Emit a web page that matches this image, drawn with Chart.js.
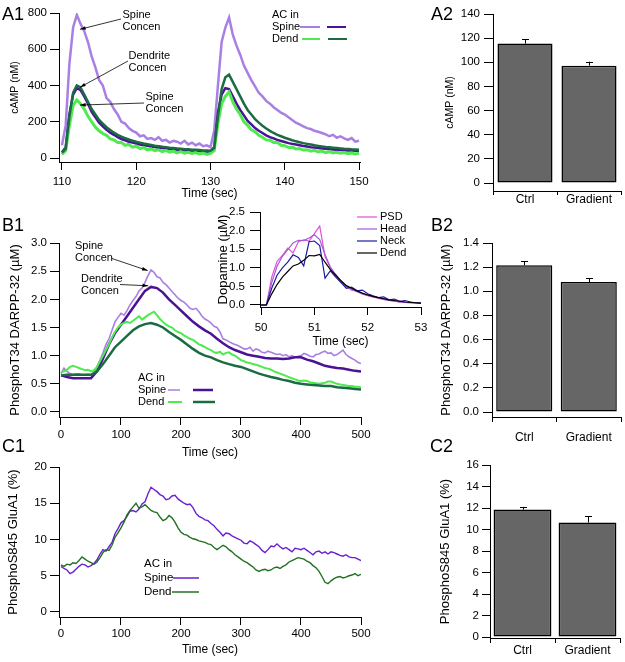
<!DOCTYPE html>
<html>
<head>
<meta charset="utf-8">
<script src="https://cdn.jsdelivr.net/npm/chart.js@4.4.1/dist/chart.umd.min.js"></script>
<style>
  html, body { margin: 0; padding: 0; background: #fff; }
  #wrap { position: relative; width: 625px; height: 662px; overflow: hidden; font-family: "Liberation Sans", Arial, sans-serif; }
  #wrap canvas { position: absolute; left: 0; top: 0; }
  .lbl { position: absolute; font-size: 18px; line-height: 18px; color: #000; }
</style>
</head>
<body>
<div id="wrap">
  <canvas id="cA1" width="625" height="662"></canvas>
  <canvas id="cA2" width="625" height="662"></canvas>
  <canvas id="cB1" width="625" height="662"></canvas>
  <canvas id="cB1i" width="625" height="662"></canvas>
  <canvas id="cB2" width="625" height="662"></canvas>
  <canvas id="cC1" width="625" height="662"></canvas>
  <canvas id="cC2" width="625" height="662"></canvas>
  <div class="lbl" style="left:2px;top:5px">A1</div>
  <div class="lbl" style="left:431px;top:5px">A2</div>
  <div class="lbl" style="left:2px;top:216px">B1</div>
  <div class="lbl" style="left:431px;top:216px">B2</div>
  <div class="lbl" style="left:2px;top:437px">C1</div>
  <div class="lbl" style="left:430px;top:437px">C2</div>
</div>
<script>
// ---- A1: cAMP transients (time in sec) ----
var tA = [110,110.5,111,111.5,112,112.5,113,113.5,114,114.5,115,115.5,116,116.5,117,117.5,118,118.5,119,119.5,
  120,120.5,121,121.5,122,122.5,123,123.5,124,124.5,125,125.5,126,126.5,127,127.5,128,128.5,129,129.5,
  130,130.5,131,131.5,132,132.5,133,133.5,134,134.5,135,135.5,136,136.5,137,137.5,138,138.5,139,139.5,
  140,140.5,141,141.5,142,142.5,143,143.5,144,144.5,145,145.5,146,146.5,147,147.5,148,148.5,149,149.5,150];
var a1SpineSpine = [70,180,520,720,790,740,700,640,560,500, 430,400,330,310,270,240,200,190,165,150,
  140,120,125,105,110,100,115,95,100,85, 95,90,80,95,75,85,70,80,65,70,
  60,150,400,640,720,775,680,620,570,510, 470,430,395,360,340,315,300,280,265,250,
  240,225,210,195,185,175,165,160,150,145, 138,130,120,128,112,120,108,100,110,90, 95];
var a1SpineDend = [30,60,240,350,385,375,340,300,255,225, 195,175,155,140,128,115,105,98,90,85,
  80,75,70,67,63,60,57,55,52,50, 48,46,45,43,42,40,39,38,36,35,
  34,60,250,350,385,380,340,300,265,235, 205,185,165,150,138,125,115,108,100,94,
  88,82,78,74,70,66,63,60,58,55, 53,51,49,47,46,44,43,42,41,40, 39];
var a1DendSpine = [20,40,180,290,320,300,270,230,200,170, 150,135,125,105,100,85,85,70,75,60,
  65,52,58,45,50,40,45,35,42,32, 38,28,35,27,32,25,30,22,28,20,
  25,40,190,300,340,365,310,270,240,200, 180,155,145,125,115,100,98,85,85,70,
  68,58,60,50,52,44,46,38,42,34, 38,30,35,28,32,26,30,24,28,22, 26];
var a1DendDend = [30,50,230,360,400,390,350,310,270,240, 210,190,170,155,140,128,118,110,102,96,
  90,85,80,76,72,68,65,62,60,57, 55,53,51,49,48,46,45,44,42,41,
  40,55,230,380,445,460,420,380,340,300, 265,240,215,195,178,163,150,138,128,120,
  112,105,98,92,87,82,78,74,70,67, 64,61,59,57,55,53,51,50,48,47, 46];
var a1XTicks = [110,120,130,140,150];
var a1YTicks = [0,200,400,600,800];

// ---- A2 / B2 / C2: bar summaries ----
var barCats = ['Ctrl','Gradient'];
var a2Vals = [115.5, 97.2];
var a2Err = [3.5, 3.3];
var a2YTicks = [0,20,40,60,80,100,120,140];
var b2Vals = [1.215, 1.077];
var b2Err = [0.036, 0.033];
var b2YTicks = [0,0.2,0.4,0.6,0.8,1.0,1.2,1.4];
var c2Vals = [11.85, 10.65];
var c2Err = [0.25, 0.6];
var c2YTicks = [0,2,4,6,8,10,12,14,16];

// ---- B1 / C1 time bases (sec) ----
var tB = [0,10,20,30,40,50,60,70,80,90,100,110,120,130,140,150,160,170,180,190,
  200,210,220,230,240,250,260,270,280,290,300,310,320,330,340,350,360,370,380,390,
  400,410,420,430,440,450,460,470,480,490,500];
var t5 = [0,5,10,15,20,25,30,35,40,45,50,55,60,65,70,75,80,85,90,95,
  100,105,110,115,120,125,130,135,140,145,150,155,160,165,170,175,180,185,190,195,
  200,205,210,215,220,225,230,235,240,245,250,255,260,265,270,275,280,285,290,295,
  300,305,310,315,320,325,330,335,340,345,350,355,360,365,370,375,380,385,390,395,
  400,405,410,415,420,425,430,435,440,445,450,455,460,465,470,475,480,485,490,495,500];

// ---- B1: PhosphoT34 DARPP-32 ----
var b1SpineSpine = [0.68,0.78,0.72,0.68,0.66,0.68,0.68,0.66,0.66,0.67, 0.66,0.7,0.8,0.92,1.05,1.2,1.3,1.45,1.6,1.68,
  1.75,1.72,1.8,1.9,1.98,2.05,2.15,2.2,2.3,2.42, 2.52,2.48,2.4,2.38,2.3,2.26,2.2,2.14,2.08,2.02,
  1.98,1.95,1.9,1.84,1.82,1.84,1.78,1.7,1.65,1.62, 1.58,1.52,1.5,1.42,1.3,1.28,1.25,1.22,1.2,1.18,
  1.15,1.12,1.12,1.15,1.08,1.12,1.1,1.06,1.05,1.08, 1.06,1.04,1.02,1.03,1.0,1.02,0.98,1.0,0.97,0.99,
  1.0,1.04,1.02,0.99,0.98,1.02,1.03,1.06,1.08,1.04, 1.05,1.0,1.02,1.06,1.1,1.02,0.98,0.95,0.92,0.88, 0.86];
var b1SpineDend = [0.65,0.62,0.6,0.6,0.6,0.6,0.72,0.95,1.2,1.4, 1.55,1.7,1.85,2.0,2.15,2.22,2.2,2.12,2.0,1.9,
  1.8,1.7,1.6,1.52,1.45,1.39,1.3,1.22,1.15,1.1, 1.06,1.02,1.0,0.98,0.96,0.95,0.95,0.94,0.95,0.97,
  0.97,0.93,0.9,0.86,0.82,0.8,0.78,0.77,0.75,0.73, 0.72];
var b1DendSpine = [0.7,0.72,0.75,0.8,0.82,0.8,0.78,0.76,0.74,0.75, 0.72,0.74,0.8,0.9,1.0,1.1,1.2,1.32,1.42,1.5,
  1.55,1.58,1.6,1.58,1.62,1.66,1.7,1.64,1.68,1.72, 1.75,1.78,1.72,1.65,1.6,1.55,1.52,1.5,1.45,1.42,
  1.4,1.36,1.33,1.3,1.28,1.24,1.2,1.18,1.15,1.12, 1.1,1.06,1.05,1.07,1.02,1.05,1.06,1.02,1.0,0.96,
  0.92,0.9,0.88,0.87,0.85,0.84,0.82,0.8,0.78,0.77, 0.75,0.72,0.7,0.68,0.66,0.64,0.62,0.6,0.58,0.56,
  0.55,0.56,0.55,0.53,0.52,0.51,0.5,0.51,0.52,0.54, 0.54,0.52,0.5,0.49,0.48,0.47,0.46,0.46,0.45,0.45, 0.44];
var b1DendDend = [0.65,0.66,0.66,0.66,0.66,0.66,0.72,0.85,1.0,1.15, 1.25,1.35,1.45,1.52,1.56,1.58,1.55,1.5,1.42,1.35,
  1.28,1.2,1.12,1.05,1.0,0.97,0.92,0.88,0.85,0.82, 0.8,0.76,0.72,0.68,0.65,0.62,0.6,0.57,0.55,0.52,
  0.5,0.49,0.48,0.47,0.46,0.46,0.44,0.43,0.42,0.41, 0.4];
var b1XTicks = [0,100,200,300,400,500];
var b1YTicks = [0,0.5,1.0,1.5,2.0,2.5,3.0];

// ---- B1 inset: dopamine ----
var tD = [50,50.1,50.2,50.3,50.4,50.5,50.6,50.7,50.8,50.9,51,51.1,51.2,51.3,51.4,51.5,51.6,51.7,51.8,51.9,
  52,52.1,52.2,52.3,52.4,52.5,52.6,52.7,52.8,52.9,53];
var daPSD = [0,0,0.75,1.17,1.33,1.53,1.4,1.7,1.75,1.72,1.92,2.12,1.3,1.0,0.8,0.62,0.5,0.4,0.38,0.3,
  0.25,0.22,0.18,0.15,0.12,0.1,0.08,0.07,0.06,0.06,0.05];
var daHead = [0,0,0.6,1.04,1.31,1.49,1.67,1.74,1.73,1.8,1.89,1.76,1.35,1.02,0.82,0.65,0.5,0.42,0.36,0.3,
  0.26,0.22,0.2,0.15,0.13,0.1,0.08,0.07,0.06,0.05,0.05];
var daNeck = [0,0,0.45,0.8,1.0,1.15,1.35,1.28,1.05,1.7,1.72,1.6,0.72,0.92,0.75,0.6,0.45,0.48,0.38,0.4,
  0.3,0.25,0.2,0.22,0.14,0.16,0.1,0.12,0.08,0.06,0.05];
var daDend = [0,0,0.3,0.55,0.75,0.9,1.05,1.1,1.2,1.33,1.32,1.36,1.15,0.95,0.8,0.65,0.52,0.45,0.38,0.32,
  0.27,0.23,0.2,0.17,0.14,0.12,0.1,0.08,0.07,0.06,0.05];
var daXTicks = [50,51,52,53];
var daYTicks = [0,0.5,1.0,1.5,2.0,2.5];

// ---- C1: PhosphoS845 GluA1 (on t5) ----
var c1Spine = [6.3,6.0,5.8,5.3,5.5,5.9,6.3,6.6,6.5,6.2, 6.4,6.7,7.2,8.0,8.6,8.4,9.0,9.6,10.8,11.5,
  12.3,12.6,13.2,13.9,14.0,13.8,14.2,14.9,15.2,16.3, 17.2,16.9,16.6,16.2,16.0,15.5,15.6,16.0,16.1,15.6,
  15.3,15.0,14.8,14.9,14.4,13.6,13.2,13.0,12.7,12.6, 12.2,11.9,11.4,11.0,10.5,10.9,10.8,10.5,10.3,10.1,
  9.9,9.5,9.4,9.8,9.6,9.3,9.0,8.5,8.2,8.6, 9.1,9.0,9.4,9.0,8.7,8.9,8.6,8.3,8.8,8.7,
  8.6,8.8,8.5,8.2,7.9,8.3,8.4,8.1,8.3,8.0, 8.3,8.2,8.0,7.8,7.7,7.9,7.6,7.5,7.5,7.3, 7.1];
var c1Dend = [6.5,6.3,6.6,6.5,6.8,6.7,7.1,7.6,7.3,7.0, 6.8,6.6,6.9,7.5,8.2,8.6,8.5,9.2,10.3,10.9,
  11.6,12.4,13.4,14.0,14.5,15.0,14.3,14.5,14.8,14.4, 14.0,13.8,13.7,13.1,12.6,12.8,13.3,13.0,12.4,11.6,
  11.0,10.7,10.6,10.3,10.1,10.0,9.8,9.7,9.6,9.4, 9.3,8.9,8.6,8.9,9.2,9.0,8.6,8.3,7.9,7.6,
  7.3,7.0,6.8,6.5,6.2,5.8,5.6,5.8,5.9,5.7, 5.8,6.1,6.2,6.0,6.3,6.5,6.9,7.1,7.3,7.5,
  7.4,7.3,7.0,6.8,6.4,6.1,5.6,4.9,4.1,3.9, 4.3,4.6,4.8,4.9,4.7,4.8,5.0,5.1,5.3,5.0, 5.2];
var c1YTicks = [0,5,10,15,20];

var LAV = '#a97fe3', DPUR = '#4b1296', LGRN = '#4eea4e', DGRN = '#1b6b43';
var FONT = '"Liberation Sans", Arial, sans-serif';

Chart.defaults.font.family = FONT;
Chart.defaults.color = '#000';
Chart.defaults.animation = false;
Chart.defaults.events = [];
Chart.defaults.plugins.legend.display = false;
Chart.defaults.plugins.tooltip.enabled = false;

function pts(t, v) { return t.map(function(x, i) { return {x: x, y: v[i]}; }); }

function line(data, color, width, order) {
  return {data: data, borderColor: color, borderWidth: width, pointRadius: 0, fill: false, tension: 0, order: order};
}

function axis(o) {
  var horiz = o.pos === 'bottom';
  var ticks = {font: {size: o.fs || 11.5}, padding: o.pad, maxRotation: 0, autoSkip: false};
  if (o.fmt) ticks.callback = function(v) { return o.fmt(v); };
  var a = {
    type: o.type || 'linear', position: o.pos,
    afterFit: function(s) { if (horiz) s.height = o.size; else s.width = o.size; },
    border: {color: '#000', width: 1},
    grid: {drawOnChartArea: false, color: '#000', tickLength: o.tl, offset: !!o.offset},
    ticks: ticks,
    title: {display: !!o.title, text: o.title, font: {size: o.ts || 12},
      padding: horiz ? {top: 0, bottom: o.tp} : {top: o.tp, bottom: 0}}
  };
  if (o.min !== undefined) { a.min = o.min; a.max = o.max; }
  if (o.ticks) a.afterBuildTicks = function(s) { s.ticks = o.ticks.map(function(v) { return {value: v}; }); };
  return a;
}
function fix1(v) { return v.toFixed(1); }

// text, legend swatches and arrows drawn on top of the plot
function decor(spec) {
  return {
    id: 'decor',
    afterDatasetsDraw: function(chart) {
      var ctx = chart.ctx, xs = chart.scales.x, ys = chart.scales.y;
      ctx.save();
      (spec.swatches || []).forEach(function(s) {
        ctx.strokeStyle = s.color; ctx.lineWidth = s.w;
        ctx.beginPath(); ctx.moveTo(s.x1, s.y); ctx.lineTo(s.x2, s.y); ctx.stroke();
      });
      ctx.fillStyle = '#000'; ctx.textBaseline = 'middle'; ctx.textAlign = 'left';
      (spec.texts || []).forEach(function(t) {
        ctx.font = (t.size || 11) + 'px ' + FONT;
        ctx.fillText(t.text, t.x, t.y);
      });
      (spec.arrows || []).forEach(function(a) {
        var tx = xs.getPixelForValue(a.at[0]), ty = ys.getPixelForValue(a.at[1]);
        ctx.strokeStyle = '#000'; ctx.lineWidth = 0.8;
        ctx.beginPath(); ctx.moveTo(a.from[0], a.from[1]); ctx.lineTo(tx, ty); ctx.stroke();
        var ang = Math.atan2(ty - a.from[1], tx - a.from[0]);
        ctx.beginPath();
        ctx.moveTo(tx, ty);
        ctx.lineTo(tx - 6 * Math.cos(ang - 0.3), ty - 6 * Math.sin(ang - 0.3));
        ctx.lineTo(tx - 6 * Math.cos(ang + 0.3), ty - 6 * Math.sin(ang + 0.3));
        ctx.closePath(); ctx.fill();
      });
      ctx.restore();
    }
  };
}

function errBars(errs) {
  return {
    id: 'errBars',
    afterDatasetsDraw: function(chart) {
      var ctx = chart.ctx, ys = chart.scales.y;
      var vals = chart.data.datasets[0].data;
      ctx.save();
      ctx.strokeStyle = '#000'; ctx.lineWidth = 1;
      chart.getDatasetMeta(0).data.forEach(function(bar, i) {
        var top = ys.getPixelForValue(vals[i] + errs[i]);
        var x = Math.round(bar.x) + 0.5;
        ctx.beginPath();
        ctx.moveTo(x, bar.y); ctx.lineTo(x, top);
        ctx.moveTo(x - 3.5, Math.round(top) + 0.5); ctx.lineTo(x + 3.5, Math.round(top) + 0.5);
        ctx.stroke();
      });
      ctx.restore();
    }
  };
}

// chart area given as L,R,T,B pixels on the page; axis boxes have fixed sizes
function pad(L, R, T, B, wy, hx) {
  return {left: L - wy, right: 625 - R, top: T, bottom: 662 - B - hx};
}

function barChart(id, vals, errs, yo, box, bw, xo) {
  new Chart(document.getElementById(id), {
    type: 'bar',
    data: {labels: barCats, datasets: [{data: vals, backgroundColor: '#666666', borderColor: '#000',
      borderWidth: 1.5, borderSkipped: false, barPercentage: bw, categoryPercentage: 1}]},
    options: {
      responsive: false, maintainAspectRatio: false,
      layout: {padding: pad(box[0], box[1], box[2], box[3], yo.size, xo.size)},
      scales: {
        x: axis({type: 'category', pos: 'bottom', size: xo.size, tl: xo.tl, pad: xo.pad, fs: 12, offset: true}),
        y: axis(yo)
      }
    },
    plugins: [errBars(errs)]
  });
}

// A1
new Chart(document.getElementById('cA1'), {
  type: 'line',
  data: {datasets: [
    line(pts(tA, a1SpineSpine), LAV, 2.5, 4),
    line(pts(tA, a1SpineDend), DPUR, 2.5, 3),
    line(pts(tA, a1DendSpine), LGRN, 3, 2),
    line(pts(tA, a1DendDend), DGRN, 2.5, 1)
  ]},
  options: {
    responsive: false, maintainAspectRatio: false,
    layout: {padding: pad(59, 360, 13, 162, 59, 40)},
    scales: {
      x: axis({pos: 'bottom', min: 109.6, max: 150.13, ticks: a1XTicks, size: 40, tl: 8, pad: 5, title: 'Time (sec)', tp: 0.8}),
      y: axis({pos: 'left', min: -22, max: 800, ticks: a1YTicks, size: 59, tl: 9, pad: 3, title: 'cAMP (nM)', ts: 10.5, tp: 8.7})
    }
  },
  plugins: [decor({
    texts: [
      {text: 'Spine', x: 122.5, y: 15}, {text: 'Concen', x: 122.5, y: 26.5},
      {text: 'Dendrite', x: 128.5, y: 56}, {text: 'Concen', x: 128.5, y: 67.5},
      {text: 'Spine', x: 145.5, y: 97}, {text: 'Concen', x: 145.5, y: 108.5},
      {text: 'AC in', x: 272, y: 15}, {text: 'Spine', x: 272, y: 27}, {text: 'Dend', x: 272, y: 39}
    ],
    swatches: [
      {color: LAV, w: 2, x1: 300, x2: 320, y: 27}, {color: DPUR, w: 2, x1: 327, x2: 346, y: 27},
      {color: LGRN, w: 2, x1: 302, x2: 320, y: 39}, {color: DGRN, w: 2, x1: 328, x2: 347, y: 39}
    ],
    arrows: [
      {from: [121, 19], at: [112.42, 710]},
      {from: [128, 61], at: [112.42, 390]},
      {from: [144, 103], at: [112.42, 292]}
    ]
  })]
});

// A2
barChart('cA2', a2Vals, a2Err,
  {pos: 'left', min: -6.6, max: 140, ticks: a2YTicks, size: 50, tl: 9, pad: 4, title: 'cAMP (nM)', ts: 10.5, tp: 0.7},
  [493, 621, 14, 191], 0.86, {size: 30, tl: 4, pad: -3});

// B1
new Chart(document.getElementById('cB1'), {
  type: 'line',
  data: {datasets: [
    line(pts(t5, b1SpineSpine), LAV, 1.6, 4),
    line(pts(tB, b1SpineDend), DPUR, 2.5, 3),
    line(pts(t5, b1DendSpine), LGRN, 2, 2),
    line(pts(tB, b1DendDend), DGRN, 2.5, 1)
  ]},
  options: {
    responsive: false, maintainAspectRatio: false,
    layout: {padding: pad(59, 361, 243, 417, 59, 45)},
    scales: {
      x: axis({pos: 'bottom', min: -3.33, max: 500, ticks: b1XTicks, size: 45, tl: 8, pad: 3, title: 'Time (sec)', tp: 1.8}),
      y: axis({pos: 'left', min: -0.089, max: 3.0, ticks: b1YTicks, size: 59, tl: 9, pad: 3, fmt: fix1,
        title: 'PhosphoT34 DARPP-32 (\u00b5M)', ts: 13, tp: 7.2})
    }
  },
  plugins: [decor({
    texts: [
      {text: 'Spine', x: 75, y: 246}, {text: 'Concen', x: 75, y: 258},
      {text: 'Dendrite', x: 81, y: 279}, {text: 'Concen', x: 81, y: 291},
      {text: 'AC in', x: 138, y: 378}, {text: 'Spine', x: 138, y: 390}, {text: 'Dend', x: 138, y: 402}
    ],
    swatches: [
      {color: LAV, w: 1.5, x1: 168, x2: 180, y: 390}, {color: DPUR, w: 2.5, x1: 193, x2: 213, y: 390},
      {color: LGRN, w: 2, x1: 168, x2: 182, y: 402}, {color: DGRN, w: 2.5, x1: 193, x2: 215, y: 402}
    ],
    arrows: [
      {from: [112, 258.5], at: [144.5, 2.51]},
      {from: [120, 284.5], at: [145.5, 2.24]}
    ]
  })]
});

// B1 inset
new Chart(document.getElementById('cB1i'), {
  type: 'line',
  data: {datasets: [
    line(pts(tD, daPSD), '#e050d8', 1.2, 4),
    line(pts(tD, daHead), '#a35ad6', 1.2, 3),
    line(pts(tD, daNeck), '#1c1ca0', 1.2, 2),
    line(pts(tD, daDend), '#000000', 1.2, 1)
  ]},
  options: {
    responsive: false, maintainAspectRatio: false,
    layout: {padding: pad(260, 421, 212, 307, 45, 43)},
    scales: {
      x: axis({pos: 'bottom', min: 49.98, max: 53, ticks: daXTicks, size: 43, tl: 8, pad: 6, title: 'Time (sec)', tp: 0.8}),
      y: axis({pos: 'left', min: -0.054, max: 2.5, ticks: daYTicks, size: 45, tl: 10, pad: 5, fmt: fix1,
        title: 'Dopamine (\u00b5M)', ts: 13, tp: 0.2})
    }
  },
  plugins: [decor({
    texts: [
      {text: 'PSD', x: 380, y: 217}, {text: 'Head', x: 380, y: 229},
      {text: 'Neck', x: 380, y: 241}, {text: 'Dend', x: 380, y: 253}
    ],
    swatches: [
      {color: '#e050d8', w: 1.2, x1: 357, x2: 377, y: 217}, {color: '#a35ad6', w: 1.2, x1: 357, x2: 377, y: 229},
      {color: '#1c1ca0', w: 1.2, x1: 357, x2: 377, y: 241}, {color: '#000000', w: 1.2, x1: 357, x2: 377, y: 253}
    ]
  })]
});

// B2
barChart('cB2', b2Vals, b2Err,
  {pos: 'left', min: -0.041, max: 1.4, ticks: b2YTicks, size: 55, tl: 9, pad: 4, fmt: fix1,
    title: 'PhosphoT34 DARPP-32 (\u00b5M)', ts: 13, tp: 1.2},
  [492, 621, 243, 417], 0.87, {size: 30, tl: 5, pad: 8});

// C1
new Chart(document.getElementById('cC1'), {
  type: 'line',
  data: {datasets: [
    line(pts(t5, c1Spine), '#6a20d0', 1.4, 2),
    line(pts(t5, c1Dend), '#237023', 1.4, 1)
  ]},
  options: {
    responsive: false, maintainAspectRatio: false,
    layout: {padding: pad(59, 361, 467, 617, 59, 42)},
    scales: {
      x: axis({pos: 'bottom', min: -3.33, max: 500, ticks: b1XTicks, size: 42, tl: 8, pad: 1.5, title: 'Time (sec)', tp: 1.8}),
      y: axis({pos: 'left', min: -0.69, max: 20, ticks: c1YTicks, size: 59, tl: 9, pad: 3,
        title: 'PhosphoS845 GluA1 (%)', ts: 13, tp: 5.2})
    }
  },
  plugins: [decor({
    texts: [
      {text: 'AC in', x: 144, y: 564, size: 11.5}, {text: 'Spine', x: 144, y: 578, size: 11.5},
      {text: 'Dend', x: 144, y: 592, size: 11.5}
    ],
    swatches: [
      {color: '#6a20d0', w: 1.5, x1: 173, x2: 199, y: 578}, {color: '#237023', w: 1.5, x1: 172, x2: 199, y: 592}
    ]
  })]
});

// C2
barChart('cC2', c2Vals, c2Err,
  {pos: 'left', min: -0.093, max: 16, ticks: c2YTicks, size: 55, tl: 8, pad: 3,
    title: 'PhosphoS845 GluA1 (%)', ts: 13, tp: 2.2},
  [490, 620, 465, 638], 0.89, {size: 22, tl: 5, pad: 0});
</script>
</body>
</html>
